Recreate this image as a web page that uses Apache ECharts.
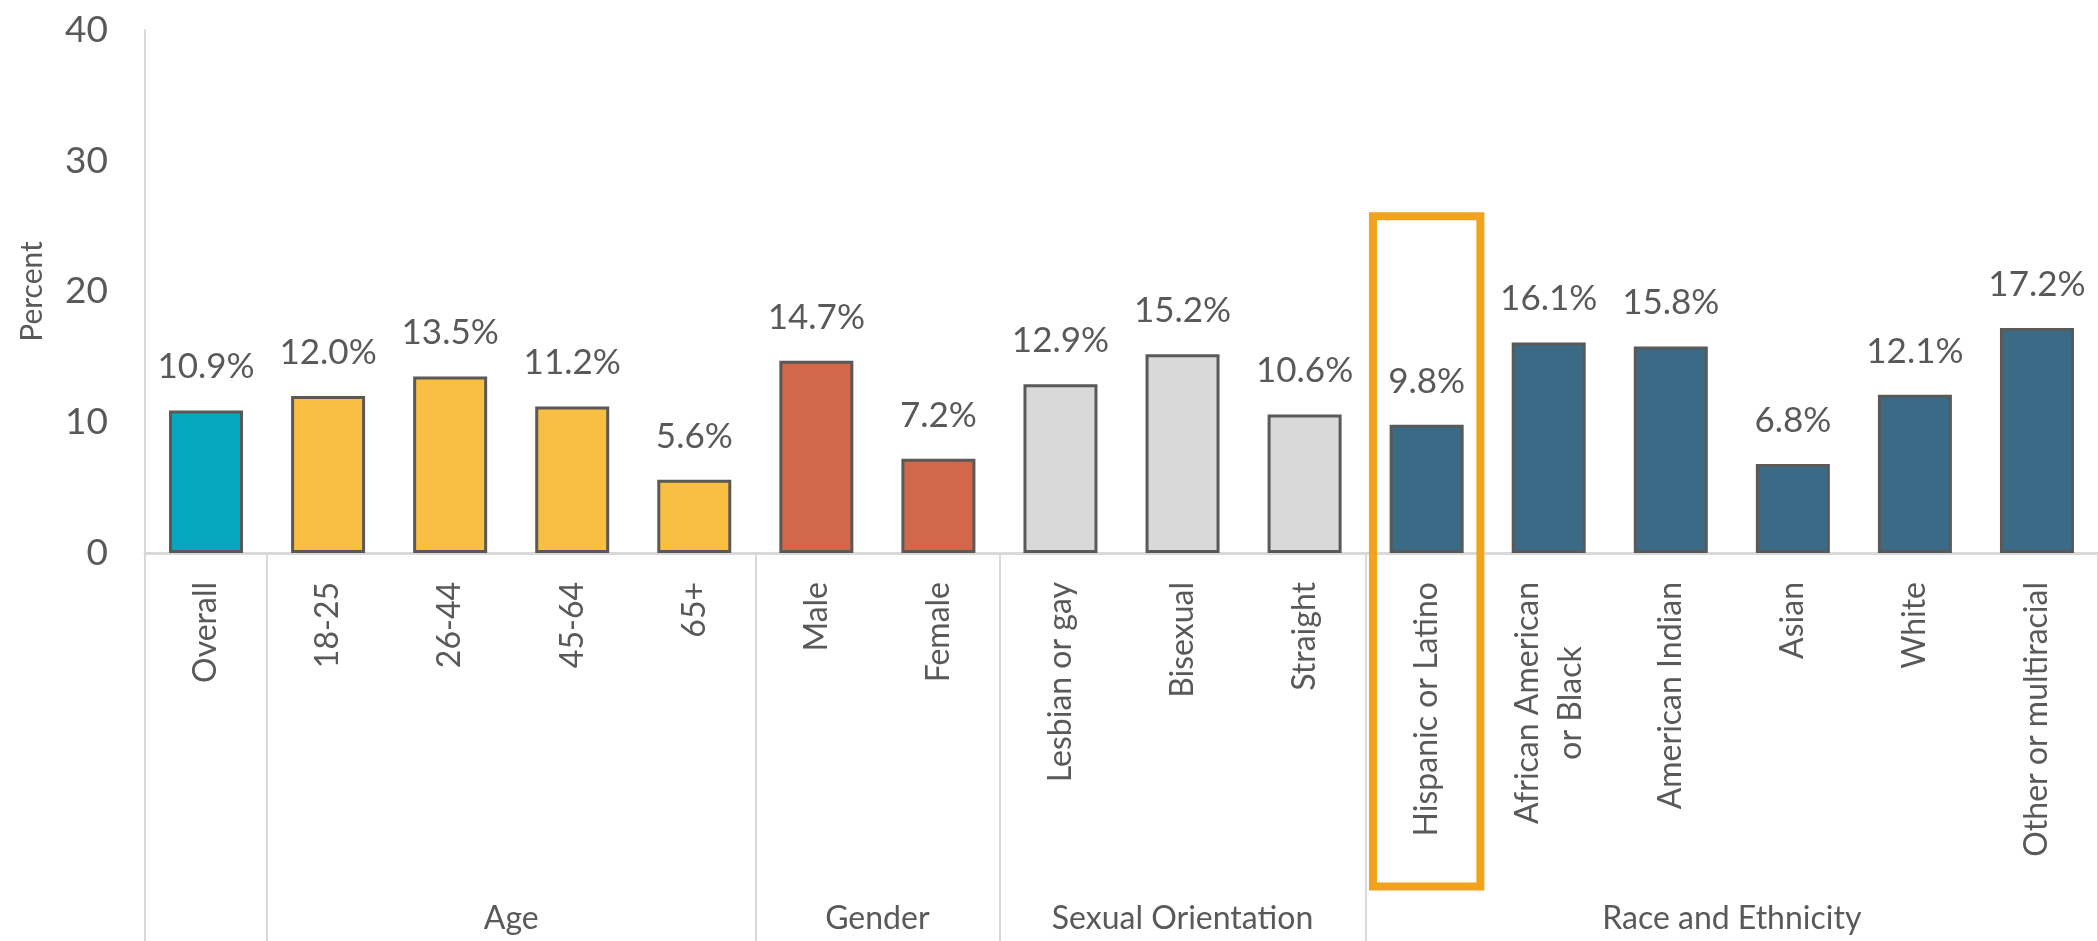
<!DOCTYPE html>
<html>
<head>
<meta charset="utf-8">
<script src="https://cdn.jsdelivr.net/npm/echarts@6/dist/echarts.min.js"></script>
<style>
  html, body { margin: 0; padding: 0; background: #ffffff; }
  #chart { width: 2098px; height: 941px; }
</style>
</head>
<body>
<div id="chart"></div>
<script>
// ---- data ----
const categories = ['Overall', '18-25', '26-44', '45-64', '65+', 'Male', 'Female',
  'Lesbian or gay', 'Bisexual', 'Straight', 'Hispanic or Latino',
  'African American\nor Black', 'American Indian', 'Asian', 'White', 'Other or multiracial'];
const values = [10.9, 12.0, 13.5, 11.2, 5.6, 14.7, 7.2, 12.9, 15.2, 10.6, 9.8, 16.1, 15.8, 6.8, 12.1, 17.2];
const groupOf = ['overall', 'age', 'age', 'age', 'age', 'gender', 'gender',
  'sexual', 'sexual', 'sexual', 'race', 'race', 'race', 'race', 'race', 'race'];
const groupNames = ['Age', 'Gender', 'Sexual Orientation', 'Race and Ethnicity'];
const groupFirst = [1, 5, 7, 10];
const groupLast = [4, 6, 9, 15];
const yTicks = [0, 10, 20, 30, 40];
const highlightCategory = 'Hispanic or Latino';

// ---- style ----
const groupColors = { overall: '#05A8BF', age: '#F9BF43', gender: '#D2674A', sexual: '#D9D9D9', race: '#3B6A87' };
const textColor = '#595959';
const font = 'Lato';

const boundaryIdx = [0].concat(groupFirst);
const groupCenters = groupFirst.map((f, i) => (f + groupLast[i]) / 2);

const chart = echarts.init(document.getElementById('chart'));
const option = {
  backgroundColor: '#ffffff',
  animation: false,
  grid: { left: 145, top: 30, height: 523, width: 1962, containLabel: false },
  xAxis: [{
    type: 'category',
    data: categories,
    axisLine: { lineStyle: { color: '#D9D9D9', width: 3 } },
    axisTick: {
      show: true,
      interval: function (i) { return boundaryIdx.indexOf(i) >= 0; },
      length: 400,
      lineStyle: { color: '#D9D9D9', width: 2 }
    },
    axisLabel: {
      rotate: 90,
      margin: 29,
      interval: 0,
      formatter: function (v) { return v.split('\n').map(s => '{c|' + s + '}').join('\n'); },
      rich: { c: { fontFamily: font, fontSize: 32, color: textColor, align: 'center', lineHeight: 43 } }
    }
  }, {
    type: 'value',
    min: -0.5, max: 15.5,
    position: 'bottom',
    gridIndex: 0,
    axisLine: { show: false, onZero: false },
    axisTick: { show: false },
    splitLine: { show: false },
    axisLabel: {
      customValues: groupCenters,
      margin: 350,
      fontFamily: font, fontSize: 32, color: textColor,
      formatter: function (v) {
        const i = groupCenters.indexOf(v);
        return i >= 0 ? groupNames[i] : '';
      }
    }
  }],
  yAxis: {
    type: 'value',
    min: 0, max: 40, interval: 10,
    name: 'Percent',
    nameLocation: 'middle',
    nameGap: 98,
    nameTextStyle: { fontFamily: font, fontSize: 30, color: textColor },
    axisLine: { show: true, onZero: false, lineStyle: { color: '#D9D9D9', width: 2 } },
    axisTick: { show: false },
    splitLine: { show: false },
    axisLabel: { margin: 37, fontFamily: font, fontSize: 37, color: textColor }
  },
  series: [{
    type: 'bar',
    xAxisIndex: 0,
    barWidth: 74,
    data: values.map((v, i) => ({
      value: v,
      itemStyle: { color: groupColors[groupOf[i]], borderColor: '#595959', borderWidth: 3 }
    })),
    label: {
      show: true,
      position: 'top',
      distance: 26,
      fontFamily: font, fontSize: 35, color: textColor,
      formatter: p => p.value.toFixed(1) + '%'
    }
  }]
};
chart.setOption(option);

// highlight box around the Hispanic or Latino category
const cx = chart.convertToPixel({ xAxisIndex: 0 }, highlightCategory);
const band = chart.convertToPixel({ xAxisIndex: 0 }, categories[1]) - chart.convertToPixel({ xAxisIndex: 0 }, categories[0]);
const yTop = chart.convertToPixel({ yAxisIndex: 0 }, 25.75);
const yBot = chart.convertToPixel({ yAxisIndex: 0 }, -25.5);
const w = band * 0.88;
chart.setOption({
  graphic: [{
    type: 'rect',
    shape: { x: cx - w / 2, y: yTop, width: w, height: yBot - yTop },
    style: { fill: 'none', stroke: '#F2A31E', lineWidth: 8 },
    z: 100
  }]
});
</script>
</body>
</html>
